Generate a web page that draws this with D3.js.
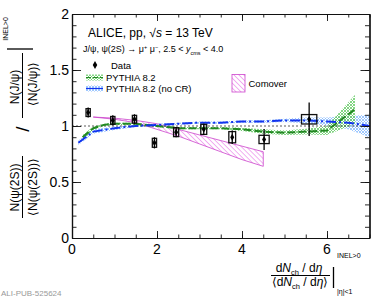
<!DOCTYPE html>
<html>
<head>
<meta charset="UTF-8">
<title>psi2S over Jpsi vs multiplicity</title>
<script src="https://d3js.org/d3.v7.min.js"></script>
<style>
  body { margin: 0; background: #fff; }
  text { font-family: "Liberation Sans", Arial, Helvetica, sans-serif; }
</style>
</head>
<body>
<svg id="chart" width="381" height="298"></svg>
<script>
// ---- data ----
var dataX    = [0.38, 0.96, 1.47, 1.94, 2.45, 3.10, 3.77, 4.52, 5.58];
var dataY    = [1.12, 1.05, 1.06, 0.85, 0.945, 0.97, 0.90, 0.88, 1.06];
var dataStat = [0.045, 0.045, 0.045, 0.05, 0.045, 0.05, 0.06, 0.094, 0.15];
var dataSysX = [0.05, 0.05, 0.05, 0.05, 0.06, 0.07, 0.08, 0.12, 0.18];
var dataSysY = [0.035, 0.035, 0.035, 0.04, 0.04, 0.045, 0.05, 0.037, 0.042];

var pyX   = [0.25, 0.5, 0.75, 1.0, 1.5, 2.0, 2.5, 3.0, 3.5, 4.0, 4.5, 5.0, 5.5, 6.0, 6.66];
var pyY   = [0.90, 0.98, 1.01, 1.02, 1.02, 1.00, 0.98, 0.98, 0.98, 0.97, 0.95, 0.94, 0.95, 0.96, 1.15];
var pyErr = [0.02, 0.015, 0.01, 0.01, 0.01, 0.01, 0.01, 0.01, 0.01, 0.015, 0.02, 0.02, 0.025, 0.04, 0.13];

var ncX   = [0.15, 0.5, 1.0, 1.5, 2.0, 2.5, 3.0, 3.5, 4.0, 4.5, 5.0, 5.5, 6.0, 6.5, 7.0];
var ncY   = [0.85, 0.95, 0.98, 1.0, 1.01, 1.02, 1.03, 1.03, 1.04, 1.04, 1.05, 1.05, 1.04, 1.03, 1.0];
var ncErr = [0.02, 0.02, 0.015, 0.01, 0.01, 0.01, 0.01, 0.01, 0.01, 0.012, 0.015, 0.025, 0.035, 0.06, 0.1];

var coX  = [0.5, 1.0, 1.5, 2.0, 2.5, 3.0, 3.5, 4.0, 4.5];
var coHi = [1.08, 1.07, 1.05, 1.02, 0.97, 0.92, 0.87, 0.82, 0.77];
var coLo = [1.08, 1.06, 1.03, 0.97, 0.91, 0.84, 0.77, 0.70, 0.64];

var yMajor = [0, 0.5, 1, 1.5, 2];
var xMajor = [0, 2, 4, 6];

// ---- layout ----
var svg = d3.select("#chart");
var L = 72, R = 369.5, T = 14, B = 238;
var x = d3.scaleLinear().domain([0, 7]).range([L, R]);
var y = d3.scaleLinear().domain([0, 2]).range([B, T]);

// hatch patterns
var defs = svg.append("defs");
function crossHatch(id, col) {
    var p = defs.append("pattern").attr("id", id).attr("patternUnits", "userSpaceOnUse")
        .attr("width", 3).attr("height", 3);
    p.append("path").attr("d", "M0,0L3,3M3,0L0,3").attr("stroke", col).attr("stroke-width", 0.8);
}
crossHatch("hGreen", "#66cc66");
crossHatch("hBlue", "#88bbff");
var pc = defs.append("pattern").attr("id", "hPink").attr("patternUnits", "userSpaceOnUse")
    .attr("width", 3.5).attr("height", 3.5).attr("patternTransform", "rotate(-45)");
pc.append("line").attr("x1", 0).attr("y1", 0).attr("x2", 0).attr("y2", 3.5)
    .attr("stroke", "#e050e0").attr("stroke-width", 0.9);

// bands
function band(xs, lo, hi) {
    return d3.area().x(function(d, i) { return x(xs[i]); })
        .y0(function(d, i) { return y(lo[i]); })
        .y1(function(d, i) { return y(hi[i]); })(xs);
}
function line(xs, ys) {
    return d3.line().x(function(d, i) { return x(xs[i]); })
        .y(function(d, i) { return y(ys[i]); })(xs);
}

svg.append("path").attr("d", band(ncX, ncY.map(function(v, i) { return v - ncErr[i]; }),
        ncY.map(function(v, i) { return v + ncErr[i]; })))
    .attr("fill", "url(#hBlue)");
svg.append("path").attr("d", band(pyX, pyY.map(function(v, i) { return v - pyErr[i]; }),
        pyY.map(function(v, i) { return v + pyErr[i]; })))
    .attr("fill", "url(#hGreen)");
svg.append("path").attr("d", band(coX, coLo, coHi))
    .attr("fill", "url(#hPink)").attr("stroke", "#cc44cc").attr("stroke-width", 0.8);

// reference line at 1
svg.append("line").attr("x1", x(0)).attr("x2", x(7)).attr("y1", y(1)).attr("y2", y(1))
    .attr("stroke", "#333").attr("stroke-width", 0.8).attr("stroke-dasharray", "2,2");

svg.append("path").attr("d", line(pyX, pyY)).attr("fill", "none")
    .attr("stroke", "#228822").attr("stroke-width", 2).attr("stroke-dasharray", "8,3");
svg.append("path").attr("d", line(ncX, ncY)).attr("fill", "none")
    .attr("stroke", "#1133ee").attr("stroke-width", 2).attr("stroke-dasharray", "10,3,2,3");

// data
dataX.forEach(function(v, i) {
    svg.append("rect")
        .attr("x", x(v - dataSysX[i])).attr("width", x(v + dataSysX[i]) - x(v - dataSysX[i]))
        .attr("y", y(dataY[i] + dataSysY[i])).attr("height", y(dataY[i] - dataSysY[i]) - y(dataY[i] + dataSysY[i]))
        .attr("fill", "none").attr("stroke", "#111").attr("stroke-width", 1.3);
    svg.append("line").attr("x1", x(v)).attr("x2", x(v))
        .attr("y1", y(dataY[i] - dataStat[i])).attr("y2", y(dataY[i] + dataStat[i]))
        .attr("stroke", "#000").attr("stroke-width", 1.3);
    svg.append("path").attr("d", d3.symbol().type(d3.symbolDiamond).size(14)())
        .attr("transform", "translate(" + x(v) + "," + y(dataY[i]) + ")").attr("fill", "#000");
});

// axes (ticks inward, on all four sides)
function minors(lo, hi, step) {
    var out = [];
    for (var v = lo; v <= hi + 1e-9; v += step) out.push(+v.toFixed(3));
    return out;
}
var yMinor = minors(0, 2, 0.1), xMinor = minors(0, 7, 0.5);
var ax = [
    [d3.axisLeft(y).tickValues(yMinor).tickSize(-4.5), "translate(" + L + ",0)"],
    [d3.axisLeft(y).tickValues(yMajor).tickSize(-9), "translate(" + L + ",0)"],
    [d3.axisRight(y).tickValues(yMinor).tickSize(-4.5), "translate(" + R + ",0)"],
    [d3.axisRight(y).tickValues(yMajor).tickSize(-9), "translate(" + R + ",0)"],
    [d3.axisBottom(x).tickValues(xMinor).tickSize(-3.5), "translate(0," + B + ")"],
    [d3.axisBottom(x).tickValues(xMajor).tickSize(-7), "translate(0," + B + ")"],
    [d3.axisTop(x).tickValues(xMinor).tickSize(-3.5), "translate(0," + T + ")"],
    [d3.axisTop(x).tickValues(xMajor).tickSize(-7), "translate(0," + T + ")"]
];
ax.forEach(function(a) {
    var g = svg.append("g").attr("transform", a[1]).call(a[0].tickFormat("").tickSizeOuter(0));
    g.select(".domain").attr("stroke", "#111").attr("stroke-width", 1.2);
    g.selectAll(".tick line").attr("stroke", "#111").attr("stroke-width", 0.9);
});

svg.selectAll(".ylab").data(yMajor).enter().append("text")
    .attr("x", 69).attr("y", function(d) { return y(d) + 5; })
    .attr("text-anchor", "end").attr("font-size", 14).text(function(d) { return d; });
svg.selectAll(".xlab").data(xMajor).enter().append("text")
    .attr("x", function(d) { return x(d); }).attr("y", 254)
    .attr("text-anchor", "middle").attr("font-size", 14).text(function(d) { return d; });

// titles in the frame
var t1 = svg.append("text").attr("x", 88).attr("y", 37).attr("font-size", 12);
t1.append("tspan").text("ALICE, pp, \u221A");
t1.append("tspan").attr("font-style", "italic").text("s");
t1.append("tspan").text(" = 13 TeV");

var t2 = svg.append("text").attr("x", 83).attr("y", 52).attr("font-size", 9);
t2.append("tspan").text("J/\u03C8, \u03C8(2S) \u2192 \u03BC");
t2.append("tspan").attr("font-size", 5.5).attr("dy", -3.5).text("+");
t2.append("tspan").attr("dy", 3.5).text(" \u03BC");
t2.append("tspan").attr("font-size", 5.5).attr("dy", -3.5).text("\u2212");
t2.append("tspan").attr("dy", 3.5).text(", 2.5 < ");
t2.append("tspan").attr("font-style", "italic").text("y");
t2.append("tspan").attr("font-size", 5.5).attr("dy", 2.5).text("cms");
t2.append("tspan").attr("dy", -2.5).text(" < 4.0");

// legend
svg.append("path").attr("d", d3.symbol().type(d3.symbolDiamond).size(18)())
    .attr("transform", "translate(95,65)").attr("fill", "#000");
svg.append("text").attr("x", 111).attr("y", 68.5).attr("font-size", 9.5).text("Data");
svg.append("rect").attr("x", 86).attr("y", 74.5).attr("width", 17).attr("height", 6).attr("fill", "url(#hGreen)");
svg.append("line").attr("x1", 86).attr("x2", 103).attr("y1", 77.5).attr("y2", 77.5)
    .attr("stroke", "#228822").attr("stroke-width", 1).attr("stroke-dasharray", "5,2");
svg.append("text").attr("x", 106).attr("y", 80.5).attr("font-size", 9.5).text("PYTHIA 8.2");
svg.append("rect").attr("x", 86).attr("y", 85.5).attr("width", 17).attr("height", 6).attr("fill", "url(#hBlue)");
svg.append("line").attr("x1", 86).attr("x2", 103).attr("y1", 88.5).attr("y2", 88.5)
    .attr("stroke", "#1133ee").attr("stroke-width", 1.2);
svg.append("text").attr("x", 106).attr("y", 91.5).attr("font-size", 9.5).text("PYTHIA 8.2 (no CR)");
svg.append("rect").attr("x", 232).attr("y", 74.5).attr("width", 13).attr("height", 17.5)
    .attr("fill", "url(#hPink)").attr("stroke", "#cc44cc").attr("stroke-width", 0.8);
svg.append("text").attr("x", 248.5).attr("y", 87).attr("font-size", 9.5).text("Comover");

// y-axis title (rotated double fraction)
var yt = svg.append("g").attr("transform", "rotate(-90)");
function ytext(cy, bx, size, str) {
    return yt.append("text").attr("x", -cy).attr("y", bx).attr("text-anchor", "middle")
        .attr("font-size", size).text(str);
}
ytext(187.5, 18.5, 12, "N(\u03C8(2S))");
ytext(187, 36.5, 12, "\u27E8N(\u03C8(2S))\u27E9");
ytext(87, 18.5, 12, "N(J/\u03C8)");
ytext(84, 36.5, 12, "\u27E8N(J/\u03C8)\u27E9");
ytext(129, 28.5, 19, "/");
ytext(29, 8, 7, "INEL>0");
svg.append("line").attr("x1", 22.5).attr("x2", 22.5).attr("y1", 156).attr("y2", 218).attr("stroke", "#000").attr("stroke-width", 1);
svg.append("line").attr("x1", 22.5).attr("x2", 22.5).attr("y1", 53).attr("y2", 118).attr("stroke", "#000").attr("stroke-width", 1);
svg.append("line").attr("x1", 7).attr("x2", 33).attr("y1", 49).attr("y2", 49).attr("stroke", "#000").attr("stroke-width", 1.3);

// x-axis title
function dndeta(sel) {
    sel.append("tspan").text("d");
    sel.append("tspan").attr("font-style", "italic").text("N");
    sel.append("tspan").attr("font-size", 7.5).attr("dy", 3).text("ch");
    sel.append("tspan").attr("dy", -3).text(" / d");
    sel.append("tspan").attr("font-style", "italic").text("\u03B7");
}
var xn = svg.append("text").attr("x", 299).attr("y", 271.5).attr("text-anchor", "middle").attr("font-size", 12);
dndeta(xn);
var xd = svg.append("text").attr("x", 300).attr("y", 286).attr("text-anchor", "middle").attr("font-size", 12);
xd.append("tspan").text("\u27E8");
dndeta(xd);
xd.append("tspan").text("\u27E9");
svg.append("line").attr("x1", 271).attr("x2", 330).attr("y1", 275.5).attr("y2", 275.5).attr("stroke", "#000").attr("stroke-width", 1);
svg.append("line").attr("x1", 333.5).attr("x2", 333.5).attr("y1", 267).attr("y2", 288).attr("stroke", "#000").attr("stroke-width", 1.3);
svg.append("text").attr("x", 337).attr("y", 258).attr("font-size", 7).text("INEL>0");
svg.append("text").attr("x", 337).attr("y", 293.5).attr("font-size", 7).text("|\u03B7|<1");

svg.append("text").attr("x", 1).attr("y", 296).attr("font-size", 8).attr("fill", "#999")
    .attr("font-family", "DejaVu Sans Mono, monospace").text("ALI-PUB-525624");
</script>
</body>
</html>
